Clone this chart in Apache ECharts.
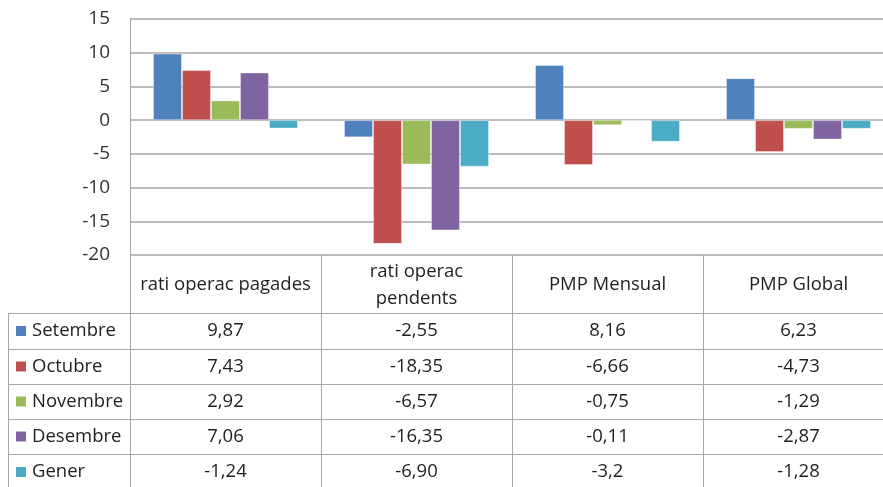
<!DOCTYPE html>
<html>
<head>
<meta charset="utf-8">
<script src="https://cdn.jsdelivr.net/npm/echarts@6/dist/echarts.min.js"></script>
<style>
	html, body { margin: 0; padding: 0; background: #fff; }
	#chart { width: 883px; height: 487px; }
</style>
</head>
<body>
<div id="chart"></div>
<script>
var categories = ['rati operac pagades', 'rati operac\npendents', 'PMP Mensual', 'PMP Global'];
var seriesNames = ['Setembre', 'Octubre', 'Novembre', 'Desembre', 'Gener'];
var colors = ['#4F81BD', '#C0504D', '#9BBB59', '#8064A2', '#4BACC6'];
// values as printed in the table
var setembre = ['9,87', '-2,55', '8,16', '6,23'];
var octubre = ['7,43', '-18,35', '-6,66', '-4,73'];
var novembre = ['2,92', '-6,57', '-0,75', '-1,29'];
var desembre = ['7,06', '-16,35', '-0,11', '-2,87'];
var gener = ['-1,24', '-6,90', '-3,2', '-1,28'];
var yTicks = [-20, -15, -10, -5, 0, 5, 10, 15];

var rows = [setembre, octubre, novembre, desembre, gener];

var chart = echarts.init(document.getElementById('chart'));
var FONT = '"Open Sans", "Noto Sans", sans-serif';
var LINE = '#a6a6a6';
var TXT = '#1f1f1f';
var FS = 18.5;

// table layout
var plotLeft = 130, colW = 191, tableLeft = 8;
var rowY = [255, 313, 349, 384, 419, 454, 490];

function num(s) { return parseFloat(s.replace(',', '.')); }

function buildTable() {
	var g = [];
	var right = plotLeft + colW * categories.length;
	// horizontal lines
	for (var r = 1; r < rowY.length; r++) {
		g.push({ type: 'line', shape: { x1: tableLeft, y1: rowY[r] + 0.5, x2: right, y2: rowY[r] + 0.5 }, style: { stroke: LINE, lineWidth: 1 }, silent: true });
	}
	// vertical lines
	g.push({ type: 'line', shape: { x1: tableLeft + 0.5, y1: rowY[1], x2: tableLeft + 0.5, y2: 487 }, style: { stroke: LINE, lineWidth: 1 } });
	for (var c = 0; c <= categories.length; c++) {
		var x = plotLeft + c * colW + 0.5;
		g.push({ type: 'line', shape: { x1: x, y1: rowY[0], x2: x, y2: 487 }, style: { stroke: LINE, lineWidth: 1 } });
	}
	// header
	categories.forEach(function(name, i) {
		g.push({ type: 'text', style: { text: name, x: plotLeft + colW * (i + 0.5), y: (rowY[0] + rowY[1]) / 2 + 1, align: 'center', verticalAlign: 'middle', font: FS + 'px ' + FONT, fill: TXT, lineHeight: 27 } });
	});
	// rows
	rows.forEach(function(vals, r) {
		var cy = (rowY[r + 1] + rowY[r + 2]) / 2;
		g.push({ type: 'rect', shape: { x: 16, y: cy - 5, width: 10, height: 10 }, style: { fill: colors[r] } });
		g.push({ type: 'text', style: { text: seriesNames[r], x: 32, y: cy, align: 'left', verticalAlign: 'middle', font: FS + 'px ' + FONT, fill: TXT } });
		vals.forEach(function(v, i) {
			g.push({ type: 'text', style: { text: v, x: plotLeft + colW * (i + 0.5), y: cy, align: 'center', verticalAlign: 'middle', font: FS + 'px ' + FONT, fill: TXT } });
		});
	});
	return g;
}

var option = {
	animation: false,
	grid: {
		left: plotLeft, top: 19, right: 883 - plotLeft - colW * categories.length, height: 236,
		containLabel: false, outerBoundsMode: 'none'
	},
	xAxis: {
		type: 'category',
		data: categories,
		axisLine: { show: false },
		axisTick: { show: false },
		axisLabel: { show: false }
	},
	yAxis: {
		type: 'value',
		min: yTicks[0],
		max: yTicks[yTicks.length - 1],
		interval: 5,
		axisLine: { show: true, lineStyle: { color: LINE, width: 1 } },
		axisTick: { show: false },
		axisLabel: { color: '#333333', fontSize: 19, fontFamily: FONT, margin: 20 },
		splitLine: { lineStyle: { color: LINE, width: 1.5 } }
	},
	series: rows.map(function(vals, i) {
		return {
			name: seriesNames[i],
			type: 'bar',
			data: vals.map(num),
			barWidth: 29,
			barGap: '0%',
			itemStyle: { color: colors[i], borderColor: 'rgba(255,255,255,0.35)', borderWidth: 1 }
		};
	}),
	graphic: buildTable()
};

chart.setOption(option);
</script>
</body>
</html>
